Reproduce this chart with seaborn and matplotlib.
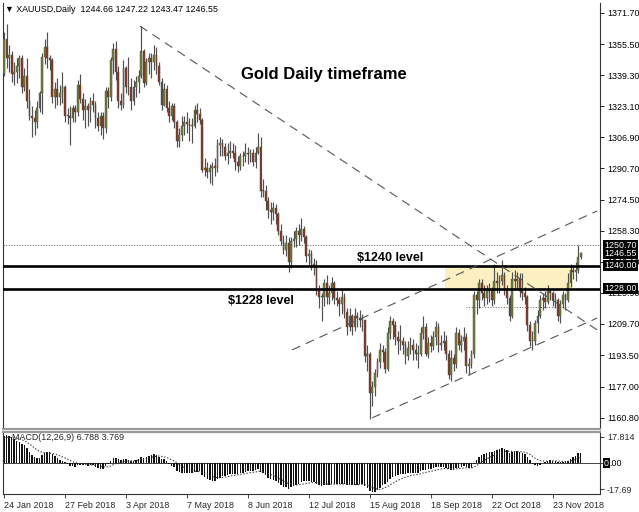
import numpy as np
import pandas as pd
import matplotlib
matplotlib.use("Agg")
import matplotlib.pyplot as plt
import matplotlib.transforms as mtransforms
import seaborn as sns

# ---------------- data ----------------
first_open = 1340.0
close = [
    1358, 1348, 1350, 1340, 1341, 1344, 1348, 1333, 1339, 1326,
    1318, 1317, 1315, 1322, 1330, 1349, 1354, 1348, 1347, 1328,
    1332, 1328, 1330, 1333, 1318, 1318, 1317, 1322, 1320, 1334,
    1327, 1321, 1323, 1321, 1326, 1324, 1317, 1313, 1318, 1312,
    1331, 1328, 1347, 1353, 1341, 1326, 1324, 1343, 1333, 1333,
    1326, 1333, 1336, 1339, 1352, 1335, 1346, 1348, 1346, 1350,
    1344, 1336, 1324, 1332, 1322, 1318, 1323, 1315, 1305, 1308,
    1313, 1315, 1314, 1313, 1313, 1321, 1319, 1316, 1290, 1291,
    1289, 1291, 1292, 1291, 1303, 1304, 1302, 1297, 1299, 1300,
    1299, 1294, 1292, 1297, 1297, 1299, 1298, 1299, 1294, 1299,
    1302, 1279, 1279, 1274, 1269, 1268, 1270, 1267, 1258, 1253,
    1248, 1252, 1242, 1253, 1254, 1258, 1256, 1259, 1255, 1245,
    1246, 1241, 1240, 1227, 1224, 1224, 1231, 1224, 1226, 1231,
    1223, 1222, 1220, 1224, 1216, 1208, 1214, 1208, 1214, 1213,
    1212, 1212, 1193, 1194, 1174, 1177, 1184, 1190, 1196, 1195,
    1186, 1205, 1211, 1209, 1203, 1201, 1201, 1199, 1193, 1197,
    1199, 1196, 1194, 1194, 1205, 1208, 1194, 1200, 1198, 1203,
    1208, 1199, 1200, 1201, 1194, 1183, 1192, 1189, 1205, 1199,
    1201, 1203, 1188, 1189, 1194, 1225, 1222, 1231, 1226, 1223,
    1227, 1227, 1222, 1232, 1231, 1232, 1235, 1228, 1223, 1214,
    1233, 1232, 1233, 1227, 1226, 1224, 1209, 1201, 1201, 1210,
    1214, 1222, 1223, 1221, 1227, 1226, 1222, 1222, 1214, 1220,
    1225, 1222, 1231, 1238, 1237, 1238, 1244.66, 1246.55,
]
high = [
    1362, 1366, 1355, 1352, 1346, 1348, 1350, 1350, 1343, 1348,
    1332, 1323, 1321, 1326, 1331, 1351, 1358, 1362, 1350, 1348,
    1336, 1338, 1334, 1341, 1334, 1322, 1323, 1324, 1324, 1337,
    1340, 1330, 1327, 1325, 1328, 1330, 1326, 1320, 1320, 1320,
    1333, 1333, 1349, 1356, 1357, 1344, 1330, 1347, 1344, 1349,
    1338, 1337, 1339, 1342, 1365, 1353, 1348, 1351, 1351, 1355,
    1354, 1346, 1338, 1335, 1334, 1326, 1325, 1325, 1316, 1312,
    1318, 1318, 1320, 1317, 1317, 1324, 1325, 1322, 1317, 1296,
    1294, 1293, 1294, 1296, 1306, 1307, 1306, 1304, 1304, 1305,
    1304, 1303, 1297, 1299, 1300, 1304, 1302, 1301, 1301, 1302,
    1309, 1307, 1285, 1282, 1276, 1273, 1273, 1272, 1268, 1262,
    1256, 1256, 1255, 1255, 1258, 1260, 1262, 1265, 1261, 1256,
    1249, 1248, 1244, 1243, 1230, 1226, 1233, 1235, 1230, 1234,
    1232, 1227, 1224, 1228, 1226, 1218, 1218, 1215, 1218, 1216,
    1217, 1215, 1212, 1199, 1195, 1180, 1186, 1192, 1200, 1199,
    1197, 1208, 1214, 1213, 1211, 1206, 1209, 1203, 1201, 1201,
    1203, 1202, 1200, 1199, 1208, 1214, 1210, 1203, 1204, 1206,
    1211, 1210, 1204, 1206, 1204, 1196, 1196, 1194, 1208, 1207,
    1204, 1208, 1205, 1192, 1196, 1227, 1227, 1233, 1233, 1230,
    1230, 1231, 1229, 1241, 1237, 1235, 1243, 1237, 1230, 1225,
    1237, 1238, 1237, 1236, 1236, 1229, 1225, 1211, 1206, 1212,
    1217, 1225, 1226, 1227, 1230, 1228, 1227, 1226, 1223, 1222,
    1227, 1226, 1236, 1241, 1240, 1242, 1250.7, 1247.22,
]
low = [
    1339, 1343, 1341, 1336, 1334, 1335, 1338, 1330, 1331, 1322,
    1316, 1307, 1308, 1312, 1320, 1319, 1345, 1343, 1342, 1325,
    1322, 1324, 1324, 1325, 1315, 1314, 1303, 1315, 1315, 1318,
    1325, 1316, 1312, 1313, 1315, 1320, 1312, 1310, 1308, 1306,
    1309, 1322, 1326, 1340, 1337, 1322, 1321, 1322, 1330, 1329,
    1321, 1324, 1328, 1330, 1338, 1333, 1334, 1340, 1338, 1342,
    1340, 1334, 1321, 1323, 1320, 1315, 1316, 1312, 1302, 1302,
    1305, 1308, 1309, 1305, 1304, 1312, 1315, 1314, 1289, 1287,
    1286, 1283, 1282, 1287, 1289, 1297, 1297, 1295, 1293, 1296,
    1296, 1290, 1289, 1290, 1292, 1294, 1293, 1294, 1292, 1291,
    1298, 1276, 1276, 1269, 1265, 1262, 1264, 1262, 1256, 1251,
    1246, 1245, 1237, 1239, 1250, 1250, 1251, 1253, 1252, 1242,
    1240, 1238, 1235, 1225, 1218, 1211, 1219, 1220, 1220, 1222,
    1220, 1219, 1214, 1215, 1213, 1204, 1206, 1204, 1206, 1208,
    1208, 1206, 1190, 1185, 1160, 1167, 1172, 1182, 1187, 1190,
    1184, 1185, 1202, 1202, 1199, 1194, 1196, 1194, 1189, 1191,
    1194, 1191, 1191, 1187, 1193, 1202, 1193, 1192, 1195, 1196,
    1199, 1195, 1196, 1196, 1191, 1181, 1180, 1185, 1187, 1196,
    1195, 1196, 1184, 1183, 1187, 1192, 1215, 1218, 1222, 1219,
    1220, 1221, 1219, 1220, 1226, 1226, 1230, 1225, 1220, 1211,
    1213, 1228, 1228, 1224, 1222, 1220, 1206, 1198, 1196, 1199,
    1205, 1213, 1217, 1218, 1220, 1222, 1219, 1218, 1211, 1210,
    1218, 1217, 1221, 1229, 1233, 1232, 1236, 1243.47,
]
macd_main = [
    18.5, 19.0, 18.6, 17.5, 16.4, 15.3, 14.6, 13.0, 12.1, 10.0,
    7.8, 5.6, 4.2, 3.3, 3.4, 5.2, 6.9, 7.6, 7.5, 5.9,
    4.6, 3.2, 2.0, 1.2, 0.8, -0.6, -1.8, -2.2, -2.4, -1.4,
    -1.2, -1.6, -1.6, -1.8, -1.5, -1.6, -2.5, -3.4, -3.8, -3.9,
    -2.0, -0.9, 1.2, 3.4, 3.6, 2.6, 2.0, 2.8, 2.6, 2.4,
    1.6, 1.7, 2.0, 2.5, 4.2, 3.4, 4.0, 5.0, 5.6, 6.0,
    5.6, 4.4, 3.0, 2.6, 1.1, -0.6, -1.8, -3.0, -5.2, -6.3,
    -6.7, -6.8, -6.9, -7.0, -6.9, -6.3, -5.9, -5.7, -8.1, -9.8,
    -11.1, -11.8, -12.1, -12.2, -11.0, -9.9, -9.0, -8.6, -8.1, -7.6,
    -7.3, -7.3, -7.3, -6.9, -6.5, -6.1, -5.7, -5.3, -5.3, -4.8,
    -4.1, -5.8, -7.0, -8.4, -9.9, -11.1, -11.8, -12.4, -13.6, -14.8,
    -16.0, -16.4, -17.4, -16.6, -15.8, -14.8, -14.0, -13.0, -12.4, -12.5,
    -12.4, -12.7, -12.9, -14.0, -14.9, -15.4, -15.0, -15.0, -14.8, -14.2,
    -14.3, -14.3, -14.4, -14.0, -14.3, -15.0, -15.0, -15.3, -14.9, -14.7,
    -14.4, -14.0, -15.4, -16.8, -19.2, -20.0, -19.8, -18.6, -16.8, -15.2,
    -14.5, -12.6, -10.8, -9.5, -8.8, -8.2, -7.6, -7.3, -7.4, -7.1,
    -6.7, -6.6, -6.6, -6.5, -5.6, -4.6, -4.8, -4.3, -4.1, -3.6,
    -2.9, -3.0, -2.9, -2.7, -3.1, -4.3, -4.4, -4.7, -3.5, -3.1,
    -2.6, -2.1, -3.0, -3.5, -3.4, -0.3, 1.8, 4.1, 5.4, 6.2,
    7.1, 7.7, 7.7, 8.5, 9.0, 9.3, 10.0, 9.6, 8.7, 7.0,
    7.5, 7.6, 7.9, 7.5, 6.9, 6.3, 4.3, 1.9, -0.3, -1.6,
    -1.8, -1.0, 0.2, 0.9, 1.6, 1.9, 1.7, 1.6, 0.7, 0.6,
    0.9, 0.8, 1.7, 3.1, 4.1, 4.9, 6.6, 6.788,
]
macd_signal = [
    17.5, 17.6, 17.6, 17.5, 17.3, 17.0, 16.5, 15.9, 15.2, 14.2,
    13.0, 11.7, 10.3, 9.0, 8.0, 7.3, 7.0, 6.9, 6.8, 6.6,
    6.2, 5.6, 4.9, 4.2, 3.5, 2.7, 1.8, 1.0, 0.3, -0.1,
    -0.4, -0.7, -0.9, -1.1, -1.2, -1.3, -1.5, -1.8, -2.2, -2.6,
    -2.6, -2.5, -2.0, -1.1, -0.4, 0.2, 0.5, 0.9, 1.2, 1.4,
    1.5, 1.6, 1.7, 1.9, 2.3, 2.6, 3.0, 3.4, 3.9, 4.3,
    4.7, 4.8, 4.6, 4.3, 3.8, 3.1, 2.3, 1.4, 0.2, -0.9,
    -2.0, -3.0, -3.8, -4.5, -5.1, -5.5, -5.7, -5.8, -6.2, -6.8,
    -7.6, -8.4, -9.1, -9.7, -9.9, -9.9, -9.8, -9.6, -9.3, -8.9,
    -8.6, -8.3, -8.0, -7.7, -7.4, -7.1, -6.8, -6.5, -6.3, -6.1,
    -5.7, -5.6, -5.8, -6.3, -7.0, -7.8, -8.6, -9.4, -10.3, -11.2,
    -12.1, -13.0, -13.9, -14.5, -14.8, -14.9, -14.8, -14.5, -14.2, -13.9,
    -13.6, -13.4, -13.3, -13.4, -13.6, -13.9, -14.1, -14.3, -14.4, -14.4,
    -14.4, -14.4, -14.4, -14.3, -14.3, -14.4, -14.5, -14.6, -14.7, -14.7,
    -14.6, -14.5, -14.7, -15.1, -15.9, -16.7, -17.3, -17.8, -17.9, -17.5,
    -16.8, -15.9, -14.9, -13.8, -12.8, -11.9, -11.0, -10.3, -9.7, -9.2,
    -8.7, -8.3, -8.0, -7.7, -7.3, -6.8, -6.4, -6.0, -5.6, -5.2,
    -4.8, -4.4, -4.1, -3.8, -3.7, -3.8, -3.9, -4.1, -4.0, -3.8,
    -3.6, -3.3, -3.2, -3.3, -3.3, -2.7, -1.8, -0.6, 0.6, 1.7,
    2.8, 3.8, 4.6, 5.4, 6.2, 6.8, 7.5, 7.9, 8.1, 8.0,
    8.0, 7.9, 7.9, 7.8, 7.6, 7.4, 6.8, 5.9, 4.7, 3.4,
    2.4, 1.7, 1.3, 1.2, 1.3, 1.4, 1.5, 1.5, 1.3, 1.2,
    1.1, 1.0, 1.1, 1.5, 2.0, 2.6, 3.4, 3.769,
]

date_ticks = [0, 24, 48, 72, 96, 120, 144, 168, 192, 216]
date_labels = ["24 Jan 2018", "27 Feb 2018", "3 Apr 2018", "7 May 2018", "8 Jun 2018",
               "12 Jul 2018", "15 Aug 2018", "18 Sep 2018", "22 Oct 2018", "23 Nov 2018"]
price_ticks = [1371.70, 1355.50, 1339.30, 1323.10, 1306.90, 1290.70, 1274.50,
               1258.30, 1242.10, 1225.90, 1209.70, 1193.50, 1177.00, 1160.80]
macd_ticks = [17.814, 0.0, -17.69]
macd_tick_labels = ["17.814", "", "-17.69"]

levels = [1240.0, 1228.0]
level_texts = ["$1240 level", "$1228 level"]
boxed_prices = [1250.70, 1246.55, 1240.00, 1228.00]
dotted_full = 1250.70
dotted_part = (182, 222, 1218.6)
zone = (173.6, 224.0, 1228.0, 1240.0)
# trend lines: (bar0, price0, bar1, price1)
trend_lines = [
    (53.5, 1364.9, 233.5, 1206.6),
    (113.4, 1196.2, 233.5, 1268.6),
    (144.9, 1160.8, 233.5, 1212.8),
]
header = "\u25BC XAUUSD,Daily  1244.66 1247.22 1243.47 1246.55"
macd_label = "MACD(12,26,9) 6.788 3.769"

# ---------------- figure ----------------
sns.set_style("white")
plt.rcParams['font.family'] = ['Liberation Sans', 'DejaVu Sans']

W, H = 639, 512
fig = plt.figure(figsize=(W / 100, H / 100), dpi=100)
fig.patch.set_facecolor("white")

def fx(px):
    return px / W

def fy(py):
    return 1 - py / H

ax = fig.add_axes([fx(3), fy(429), fx(600) - fx(3), fy(3) - fy(429)])
ax2 = fig.add_axes([fx(3), fy(494), fx(600) - fx(3), fy(432) - fy(494)], sharex=ax)

n = len(close)
bars = np.arange(n)
c = np.array(close, dtype=float)
o = np.concatenate([[first_open], c[:-1]])
h = np.maximum(np.array(high, dtype=float), np.maximum(o, c))
l = np.minimum(np.array(low, dtype=float), np.minimum(o, c))
df = pd.DataFrame({"bar": bars, "open": o, "high": h, "low": l, "close": c})

# zone
ax.fill_between([zone[0], zone[1]], zone[2], zone[3], color="#fcf0c2", lw=0, zorder=1)

# dotted lines
ax.axhline(dotted_full, color="#444444", lw=0.6, ls=(0, (1.2, 2.0)), zorder=2)
ax.plot([dotted_part[0], dotted_part[1]], [dotted_part[2]] * 2, color="#444444",
        lw=0.6, ls=(0, (1.2, 2.0)), zorder=2)

# candles
wick_col = "#505050"
bull_col = "#717f33"
bear_col = "#8a3820"
ax.vlines(df["bar"], df["low"], df["high"], color=wick_col, lw=0.85, zorder=3)
up = df["close"] >= df["open"]
body_h = np.maximum((df["close"] - df["open"]).abs(), 0.4)
body_b = np.minimum(df["open"], df["close"])
ax.bar(df["bar"][up], body_h[up], bottom=body_b[up], width=0.7,
       color=bull_col, edgecolor="#4a4a4a", linewidth=0.3, zorder=4)
ax.bar(df["bar"][~up], body_h[~up], bottom=body_b[~up], width=0.7,
       color=bear_col, edgecolor="#4a4a4a", linewidth=0.3, zorder=4)

# level lines
for lv in levels:
    ax.axhline(lv, color="black", lw=1.9, zorder=5)

# trend lines
for b0, p0, b1, p1 in trend_lines:
    ax.plot([b0, b1], [p0, p1], color="#555555", lw=0.8, ls=(0, (8, 5.5)), zorder=5)

ax.set_xlim(-0.4, 234.6)
ax.set_ylim(1155.0, 1376.9)

ax.yaxis.tick_right()
ax.set_yticks(price_ticks)
ax.set_yticklabels([f"{v:.2f}" for v in price_ticks])
ax.tick_params(axis="y", which="both", direction="out", length=3, width=0.6,
               labelsize=6.4, pad=2, colors="black", right=True, left=False)
ax.tick_params(axis="x", which="both", bottom=False, labelbottom=False)
for s in ax.spines.values():
    s.set_color("#333333")
    s.set_linewidth(0.8)
ax.spines["top"].set_visible(False)
ax.spines["bottom"].set_color("#9a9a9a")
ax.spines["bottom"].set_linewidth(1.6)

# boxed labels on the price axis
ytr = mtransforms.blended_transform_factory(ax.transAxes, ax.transData)
for v in boxed_prices:
    ax.annotate(f"{v:.2f}", xy=(1, v), xycoords=ytr, xytext=(4, 0),
                textcoords="offset pixels", ha="left", va="center", fontsize=6.4,
                color="white", annotation_clip=False, zorder=10,
                bbox=dict(boxstyle="square,pad=0.12", fc="black", ec="none"))

# texts
fig.text(fx(241), fy(75), "Gold Daily timeframe", fontsize=12, fontweight="bold",
         ha="left", va="center", color="black")
fig.text(fx(357), fy(258), level_texts[0], fontsize=9, fontweight="bold",
         ha="left", va="center", color="black")
fig.text(fx(228), fy(301), level_texts[1], fontsize=9, fontweight="bold",
         ha="left", va="center", color="black")
fig.text(fx(5), fy(10), header, fontsize=6.4, ha="left", va="center", color="black",
         family=['Liberation Sans', 'DejaVu Sans'])

# ---------------- MACD panel ----------------
ax2.text(fx(12 - 3) / (fx(600) - fx(3)), 1 - (437 - 432) / (494 - 432), macd_label,
         transform=ax2.transAxes, fontsize=6.4, ha="left", va="center", zorder=1)
ax2.bar(bars, macd_main, width=0.58, color="#111111", linewidth=0, zorder=2)
sig_df = pd.DataFrame({"bar": bars, "signal": macd_signal})
sns.lineplot(data=sig_df, x="bar", y="signal", ax=ax2, color="#333333", lw=0.8,
             linestyle=(0, (1.2, 1.6)), zorder=3)
ax2.axhline(0, color="#222222", lw=0.6, zorder=1)
ax2.set_ylim(-21.1, 21.2)
ax2.set_xlim(-0.4, 234.6)
ax2.set_xlabel("")
ax2.set_ylabel("")
ax2.yaxis.tick_right()
ax2.set_yticks(macd_ticks)
ax2.set_yticklabels(macd_tick_labels)
ax2.tick_params(axis="y", direction="out", length=3, width=0.6, labelsize=6.4, pad=2,
                right=True, left=False)
ax2.set_xticks(date_ticks)
ax2.set_xticklabels(date_labels, ha="left")
ax2.tick_params(axis="x", direction="out", length=3, width=0.6, labelsize=6.4, pad=2,
                bottom=True)
for s in ax2.spines.values():
    s.set_color("#333333")
    s.set_linewidth(0.8)
ax2.spines["top"].set_color("#9a9a9a")
ax2.spines["top"].set_linewidth(1.6)

ytr2 = mtransforms.blended_transform_factory(ax2.transAxes, ax2.transData)
ax2.annotate("0", xy=(1, 0), xycoords=ytr2, xytext=(4, 0), textcoords="offset pixels",
             ha="left", va="center", fontsize=6.4, color="white", annotation_clip=False,
             bbox=dict(boxstyle="square,pad=0.1", fc="black", ec="none"), zorder=10)
ax2.annotate(".00", xy=(1, 0), xycoords=ytr2, xytext=(9.5, 0), textcoords="offset pixels",
             ha="left", va="center", fontsize=6.4, color="black", annotation_clip=False)

fig.savefig("out.png", dpi=100, facecolor="white")
